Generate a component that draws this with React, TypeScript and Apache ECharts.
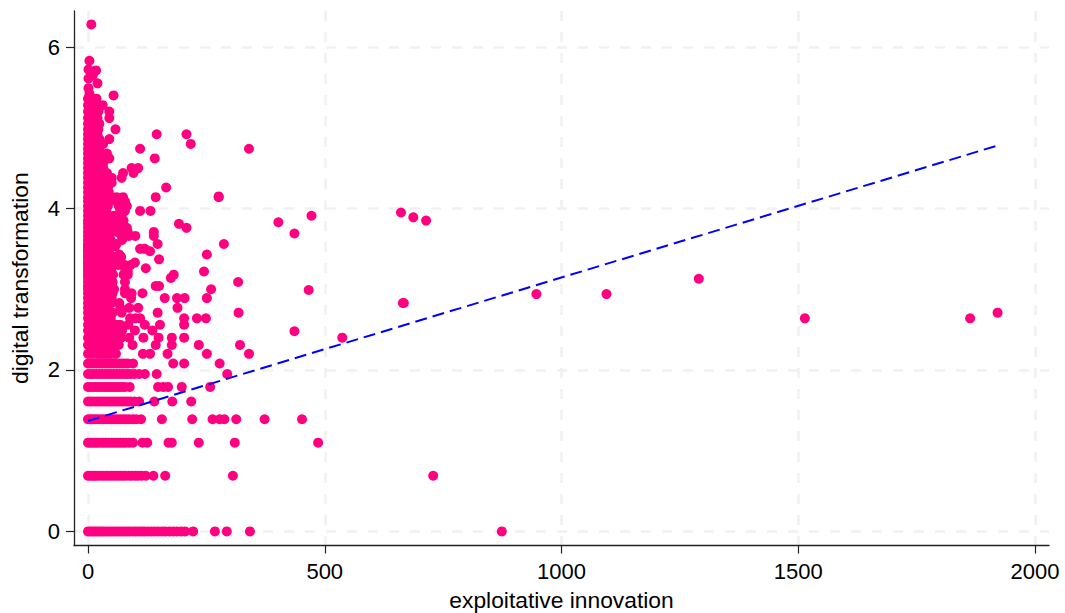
import React, { useEffect, useRef } from "react";
import * as echarts from "echarts";

const xTicks = [0, 500, 1000, 1500, 2000];
const yTicks = [0, 2, 4, 6];

// horizontal runs of points, one list of x values per y level
const rowLevels = [0, 0.69, 1.1, 1.39, 1.61, 1.79, 1.95, 2.08, 2.2, 2.31, 2.4, 2.49, 2.56, 2.64, 2.71, 2.77, 2.83, 2.89, 2.95, 3.0, 3.04, 3.09, 3.14, 3.18, 3.22, 3.26, 3.3, 3.33, 3.37, 3.4, 3.43, 3.47, 3.5, 3.53, 3.56, 3.61, 3.66, 3.71, 3.76, 3.81, 3.85, 3.91, 3.97, 4.03, 4.09, 4.14, 4.2, 4.26, 4.32, 4.38, 4.44, 4.5, 4.56, 4.62, 4.68, 4.74, 4.8, 4.86, 4.92, 4.98, 5.05, 5.12, 5.2, 5.28, 5.36];
const rowXs: number[][] = [
  [0, 4, 9, 14, 19, 24, 29, 34, 40, 46, 52, 58, 64, 70, 76, 82, 88, 95, 101, 108, 114, 120, 127, 134, 141, 148, 156, 163, 172, 180, 188, 197, 205, 222, 268, 293, 342, 874],
  [0, 5, 10, 15, 20, 26, 32, 38, 44, 50, 56, 62, 68, 74, 80, 87, 93, 100, 106, 113, 122, 138, 163, 306, 729],
  [0, 5, 10, 15, 20, 26, 32, 38, 44, 50, 56, 62, 68, 74, 80, 87, 95, 115, 125, 170, 177, 234, 310, 486],
  [0, 5, 10, 15, 20, 26, 32, 38, 44, 50, 56, 62, 68, 74, 80, 87, 95, 102, 112, 156, 220, 263, 278, 288, 313, 373, 452],
  [0, 6, 12, 18, 24, 30, 36, 42, 48, 54, 60, 66, 72, 78, 84, 90, 98, 108, 140, 178, 218],
  [0, 6, 12, 18, 24, 30, 36, 42, 48, 54, 60, 66, 72, 78, 88, 148, 159, 169, 198, 258],
  [0, 6, 12, 18, 24, 30, 36, 42, 48, 54, 60, 66, 72, 78, 84, 90, 98, 108, 120, 145, 294],
  [0, 6, 12, 18, 24, 30, 36, 42, 48, 54, 60, 66, 72, 78, 84, 95, 180, 203, 278],
  [0, 7, 14, 21, 28, 35, 40, 46, 52, 59, 116, 131, 168, 251, 340],
  [0, 7, 14, 21, 28, 35, 42, 50, 58, 65, 94, 143, 177, 234, 321],
  [0, 7, 14, 21, 28, 35, 42, 50, 58, 70, 87, 117, 149, 177, 203],
  [0, 7, 14, 21, 28, 35, 42, 50, 60, 72, 99, 136],
  [0, 7, 14, 21, 28, 35, 42, 50, 60, 68, 85, 120, 152, 203],
  [0, 7, 14, 21, 28, 35, 42, 48, 89, 100, 110, 203, 230, 249],
  [0, 7, 14, 21, 28, 35, 42, 52, 71, 147, 318],
  [0, 7, 14, 21, 28, 35, 42, 68, 87, 106, 189],
  [0, 7, 14, 21, 28, 35, 42, 50, 66],
  [0, 7, 14, 21, 28, 35, 42, 50, 91, 162, 188, 204, 251],
  [0, 7, 14, 21, 28, 35, 42, 52, 78, 92, 115],
  [0, 7, 14, 21, 28, 35, 42, 55, 78, 260],
  [0, 7, 14, 21, 28, 35, 42, 50, 143, 150],
  [0, 7, 14, 21, 28, 35, 44, 52, 78, 317],
  [0, 7, 14, 21, 28, 35, 44, 175],
  [0, 7, 14, 21, 28, 36, 46, 53, 75, 84, 181],
  [0, 7, 14, 21, 28, 36, 45, 84, 245],
  [0, 7, 14, 21, 28, 38, 50, 78, 122],
  [0, 7, 14, 21, 28, 38, 46, 64, 78, 90],
  [0, 7, 14, 21, 28, 36, 62, 99],
  [0, 7, 14, 21, 28, 38, 48, 68, 150],
  [0, 7, 14, 21, 28, 42, 56, 70],
  [0, 7, 14, 21, 30, 45, 66, 251],
  [0, 7, 14, 21, 30, 44, 131],
  [0, 7, 14, 21, 30, 42, 110, 120],
  [0, 7, 14, 21, 30, 40, 57],
  [0, 7, 14, 21, 32, 45, 60, 147, 287],
  [0, 7, 14, 21, 30, 38, 48, 72],
  [0, 7, 14, 21, 30, 40, 71, 86, 100, 139],
  [0, 7, 14, 21, 30, 38, 52, 62, 74, 84, 139],
  [0, 7, 14, 21, 30, 36, 46, 60, 68, 82, 208],
  [0, 7, 14, 21, 30, 38, 56, 68, 192],
  [0, 7, 14, 21, 30, 40, 60, 75],
  [0, 7, 14, 21, 30, 36, 53, 62, 71],
  [0, 7, 14, 21, 30, 38, 68, 78, 110, 132],
  [0, 7, 14, 21, 30, 42, 65, 82],
  [0, 7, 14, 21, 30, 45, 60, 78],
  [0, 7, 14, 21, 28, 36, 45, 60, 74, 143, 276],
  [0, 7, 14, 21, 28, 36, 44],
  [0, 7, 14, 21, 28, 34, 42, 165],
  [0, 7, 14, 21, 28, 32, 50],
  [0, 7, 14, 21, 28, 36, 50, 71],
  [0, 7, 14, 21, 28, 40, 74, 96],
  [0, 7, 14, 21, 26, 32, 92, 106],
  [0, 7, 14, 20, 26, 32],
  [0, 7, 14, 20, 28, 45, 141],
  [0, 7, 14, 20, 26, 40],
  [0, 6, 12, 18, 24, 110, 340],
  [0, 6, 12, 18, 32, 217],
  [0, 6, 12, 18, 24, 45],
  [0, 6, 12, 20, 145, 208],
  [0, 6, 12, 22, 58],
  [0, 6, 12, 18, 24],
  [0, 6, 14, 20, 45],
  [0, 6, 12, 22, 45],
  [0, 6, 12, 20, 31],
  [0, 6, 11, 18],
];
const extraX = [7, 3, 1, 17, 1, 10, 20, 1, 3, 54, 11, 665, 661, 687, 714, 402, 436, 472, 466, 667, 436, 537, 947, 1095, 1290, 1514, 1863, 1921, 276];
const extraY = [6.28, 5.83, 5.72, 5.71, 5.61, 5.65, 5.55, 5.49, 5.42, 5.4, 5.33, 2.83, 3.95, 3.89, 3.85, 3.83, 3.69, 3.91, 2.99, 2.83, 2.48, 2.4, 2.94, 2.94, 3.13, 2.64, 2.64, 2.71, 4.15];

const fitX = [0, 1921];
const fitY = [1.37, 4.78];

const xTitle = "exploitative innovation";
const yTitle = "digital transformation";

const FONT = "Liberation Sans";
const GRID = "#f1f1f1";

export default function App() {
  const ref = useRef<HTMLDivElement>(null);
  useEffect(() => {
    document.body.style.margin = "0";
    const chart = echarts.init(ref.current!, undefined, { renderer: "svg" });
    const points: number[][] = [];
    rowLevels.forEach((y, i) => rowXs[i].forEach((x) => points.push([x, y])));
    extraX.forEach((x, i) => points.push([x, extraY[i]]));
    const splitLine = { show: true, lineStyle: { color: GRID, width: 2.5, type: [10, 11] as number[] } };
    chart.setOption({
      animation: false,
      backgroundColor: "#ffffff",
      grid: { left: 74, right: 16, top: 11, bottom: 67.5, outerBoundsMode: "none" },
      xAxis: {
        type: "value",
        min: -29.6,
        max: 2029.6,
        name: xTitle,
        nameLocation: "middle",
        nameGap: 43,
        nameTextStyle: { fontFamily: FONT, fontSize: 22.8, color: "#000" },
        axisLine: { onZero: false, lineStyle: { color: "#222", width: 1.3 } },
        axisTick: { length: 8, customValues: xTicks, lineStyle: { color: "#222", width: 1.2 } },
        axisLabel: { customValues: xTicks, formatter: (v: number) => String(v), fontFamily: FONT, fontSize: 22, color: "#000", margin: 15, hideOverlap: false, showMinLabel: true, showMaxLabel: true },
        splitLine,
      },
      yAxis: {
        type: "value",
        min: -0.174,
        max: 6.446,
        name: yTitle,
        nameLocation: "middle",
        nameGap: 43,
        nameTextStyle: { fontFamily: FONT, fontSize: 22.8, color: "#000" },
        axisLine: { onZero: false, lineStyle: { color: "#222", width: 1.3 } },
        axisTick: { length: 8, customValues: yTicks, lineStyle: { color: "#222", width: 1.2 } },
        axisLabel: { customValues: yTicks, formatter: (v: number) => String(v), fontFamily: FONT, fontSize: 22, color: "#000", margin: 14 },
        splitLine,
      },
      series: [
        {
          type: "scatter",
          data: points,
          symbol: "circle",
          symbolSize: 10,
          itemStyle: { color: "#FF0080", opacity: 1 },
          silent: true,
          large: false,
        },
        {
          type: "line",
          data: fitX.map((x, i) => [x, fitY[i]]),
          showSymbol: false,
          symbol: "none",
          lineStyle: { color: "#0000FF", width: 2, type: [12, 6] },
          z: 5,
          silent: true,
        },
      ],
    });
    return () => chart.dispose();
  }, []);
  return <div ref={ref} style={{ width: 1065, height: 613 }} />;
}
